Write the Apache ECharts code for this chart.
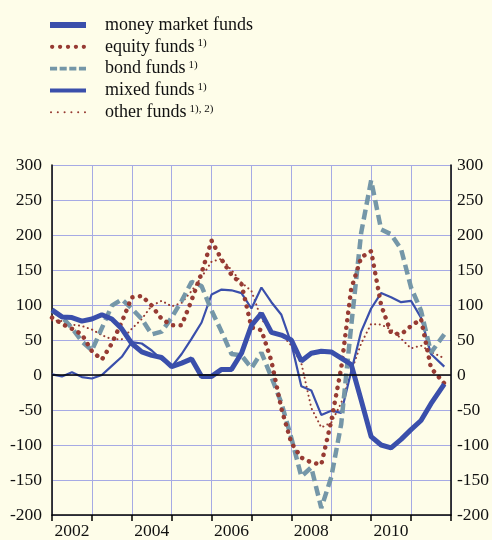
<!DOCTYPE html>
<html>
<head>
<meta charset="utf-8">
<script src="https://cdn.jsdelivr.net/npm/echarts@6/dist/echarts.min.js"></script>
<style>
html,body{margin:0;padding:0;background:#fefde9;}
#c{width:492px;height:540px;}
</style>
</head>
<body>
<div id="c"></div>
<script>
// quarterly observation dates (year-month)
const dates = ['2002-01','2002-04','2002-07','2002-10','2003-01','2003-04','2003-07','2003-10',
  '2004-01','2004-04','2004-07','2004-10','2005-01','2005-04','2005-07','2005-10',
  '2006-01','2006-04','2006-07','2006-10','2007-01','2007-04','2007-07','2007-10',
  '2008-01','2008-04','2008-07','2008-10','2009-01','2009-04','2009-07','2009-10',
  '2010-01','2010-04','2010-07','2010-10','2011-01','2011-04','2011-07','2011-11'];

const moneyMarket = [93,83,82,77,80,86,80,66,45,33,28,25,12,17,23,-2,-2,8,8,31,71,88,61,57,50,20,31,34,33,24,15,-36,-88,-100,-104,-92,-78,-65,-41,-13];
const equity      = [82,73,66,58,34,22,45,76,111,113,99,80,71,71,107,146,192,165,143,130,68,64,20,-48,-97,-118,-125,-128,-66,10,123,168,177,100,60,58,70,80,10,-12];
const bond        = [92,83,67,48,35,67,99,108,95,80,58,62,82,106,133,127,92,62,30,28,10,32,-3,-40,-90,-145,-132,-190,-146,-70,70,203,278,208,201,180,125,92,32,58];
const mixed       = [1,-2,4,-3,-5,0,13,26,47,45,35,22,12,30,52,75,115,122,121,117,95,125,104,86,45,-16,-22,-57,-51,-54,5,62,95,117,111,104,106,82,30,12];
const other       = [78,77,72,70,65,57,51,51,66,80,99,106,98,103,120,140,162,166,150,132,120,80,62,58,42,17,-47,-75,-68,-40,5,45,73,72,65,52,38,42,33,24];

const seriesNames = ['money market funds','equity funds','bond funds','mixed funds','other funds'];
const superscripts = ['', '1)', '1)', '1)', '1), 2)'];
const yearLabels = [2002,2004,2006,2008,2010];

const toYear = s => +s.slice(0,4) + (+s.slice(5,7) - 1) / 12;
const pts = arr => dates.map((d,i) => [toYear(d), arr[i]]);

const BLUE = '#3a4fab', RED = '#973b33', GREY = '#7597a8', GRID = '#a6aae4';
const FONT = 'Liberation Serif';

// legend sample icons
function dotsPath(n, step, r) {
  let p = '';
  for (let i = 0; i < n; i++) {
    const cx = r + i * step;
    p += 'M' + (cx - r) + ',' + r + 'a' + r + ',' + r + ' 0 1,0 ' + (2*r) + ',0a' + r + ',' + r + ' 0 1,0 ' + (-2*r) + ',0Z';
  }
  return 'path://' + p;
}
function dashPath(n, len, gap, h) {
  let p = '';
  for (let i = 0; i < n; i++) {
    const x = i * (len + gap);
    p += 'M' + x + ',0L' + (x+len) + ',0L' + (x+len) + ',' + h + 'L' + x + ',' + h + 'Z';
  }
  return 'path://' + p;
}

const chart = echarts.init(document.getElementById('c'), null, {renderer:'canvas'});
const supMap = {};
seriesNames.forEach((n,i)=>supMap[n]=superscripts[i]);

chart.setOption({
  backgroundColor: '#fefde9',
  animation: false,
  grid: {left: 52, right: 40, top: 165, bottom: 22.3},
  legend: {
    orient: 'vertical', left: 50, top: 16, padding: 0, itemWidth: 36, itemHeight: 14, itemGap: 3.8,
    textStyle: {fontFamily: FONT, fontSize: 18, color: '#111', padding: [0,0,0,14],
      rich: {s: {fontFamily: FONT, fontSize: 11, color: '#111', verticalAlign: 'top', padding:[0,0,7,3]}}},
    formatter: n => supMap[n] ? n + '{s|' + supMap[n] + '}' : n,
    data: [
      {name: seriesNames[0], icon: 'path://M0,0L36,0L36,6L0,6Z', itemStyle:{color:BLUE}},
      {name: seriesNames[1], icon: dotsPath(5, 7.7, 2.1), itemStyle:{color:RED}},
      {name: seriesNames[2], icon: dashPath(4, 7.5, 2.7, 4), itemStyle:{color:GREY}},
      {name: seriesNames[3], icon: 'path://M0,0L36,0L36,4L0,4Z', itemStyle:{color:BLUE}},
      {name: seriesNames[4], icon: dotsPath(6, 6.6, 1), itemStyle:{color:RED}}
    ]
  },
  xAxis: {
    type: 'value', min: 2002, max: 2012, interval: 1,
    axisLine: {onZero: false, lineStyle: {color: '#000', width: 1.5}},
    axisTick: {show: true, inside: false, length: 6, lineStyle: {color: '#000', width: 1.5}},
    splitLine: {show: true, lineStyle: {color: GRID, width: 1}},
    axisLabel: {
      customValues: yearLabels.map(y => y + 0.5),
      formatter: v => String(Math.floor(v)),
      fontFamily: FONT, fontSize: 17.5, color: '#111', margin: 7
    }
  },
  yAxis: [
    {type: 'value', min: -200, max: 300, interval: 50, position: 'left',
     axisLine: {show: true, lineStyle: {color: '#000', width: 1.5}},
     axisTick: {show: false},
     splitLine: {show: true, lineStyle: {color: GRID, width: 1}},
     axisLabel: {fontFamily: FONT, fontSize: 17.5, color: '#111', margin: 10}},
    {type: 'value', min: -200, max: 300, interval: 50, position: 'right',
     axisLine: {show: true, lineStyle: {color: '#000', width: 1.5}},
     axisTick: {show: false},
     splitLine: {show: false},
     axisLabel: {fontFamily: FONT, fontSize: 17.5, color: '#111', margin: 6}}
  ],
  series: [
    {name: seriesNames[4], type: 'line', symbol: 'none', data: pts(other),
     lineStyle: {color: RED, width: 2, type: [0.1, 4.5], cap: 'round'}, itemStyle: {color: RED}},
    {name: seriesNames[3], type: 'line', symbol: 'none', data: pts(mixed),
     lineStyle: {color: BLUE, width: 2.2}, itemStyle: {color: BLUE}},
    {name: seriesNames[2], type: 'line', symbol: 'none', data: pts(bond),
     lineStyle: {color: GREY, width: 4.5, type: [10, 5]}, itemStyle: {color: GREY}},
    {name: seriesNames[1], type: 'line', symbol: 'none', data: pts(equity),
     lineStyle: {color: RED, width: 4.5, type: [0.1, 7.5], cap: 'round'}, itemStyle: {color: RED}},
    {name: seriesNames[0], type: 'line', symbol: 'none', data: pts(moneyMarket),
     lineStyle: {color: BLUE, width: 5}, itemStyle: {color: BLUE},
     markLine: {silent: true, symbol: 'none', label: {show: false},
       lineStyle: {color: '#000', width: 1.5, type: 'solid'}, data: [{yAxis: 0}]}}
  ]
});
</script>
</body>
</html>
